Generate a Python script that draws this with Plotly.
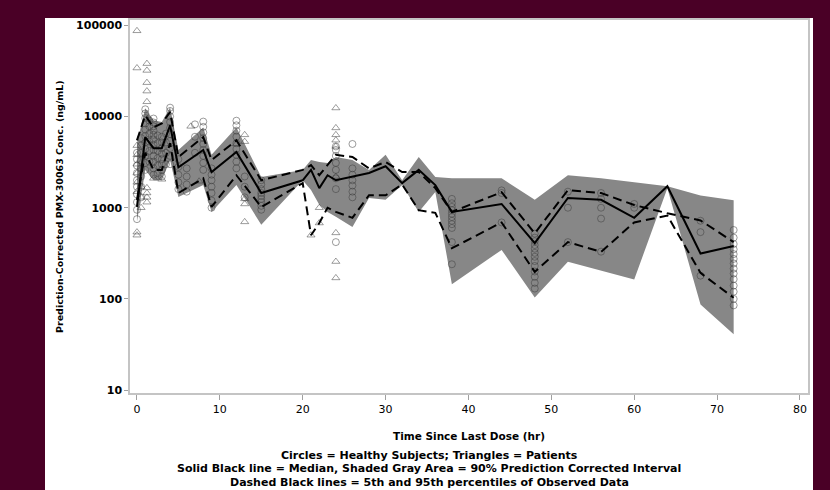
import plotly.graph_objects as go

# ---------------- data ----------------
TIME = [0, 1, 2, 3, 4, 5, 8, 9, 12, 15, 20, 21, 22, 23, 24, 26, 28, 30, 32, 34,
        36, 38, 44, 48, 52, 56, 60, 64, 68, 72]
PI_LO = [700, 2600, 2000, 2000, 3330, 1310, 1780, 900, 1780, 650, 2000, 1560, 1075, 900, 795,
         615, 1280, 1220, 1770, 900, 1490, 145, 345, 104, 256, 204, 163, 1640, 87, 41]
PI_HI = [5100, 12300, 9100, 8700, 12600, 4300, 7600, 3800, 7600, 2170, 2600, 3330, 3170, 3100, 3600,
         3330, 2600, 3800, 2000, 3600, 2170, 2100, 2100, 1220, 2270, 2100, 1900, 1720, 1360, 1210]
MEDIAN = [1020, 5950, 4500, 4500, 8000, 2780, 4300, 2460, 4090, 1450, 2000, 2600, 1640, 2270, 2000,
          2170, 2400, 2850, 1860, 2600, 1770, 900, 1100, 410, 1280, 1220, 775, 1720, 315, 380]
OBS_P95 = [5480, 10300, 7600, 8400, 11200, 3600, 5950, 3330, 5480, 2000, 2600, 2930, 2270, 2930, 3800,
           3600, 2700, 3170, 2460, 2460, 1640, 900, 1480, 525, 1560, 1450, 1070, 870, 725, 420]
OBS_P05 = [1220, 4000, 2600, 2600, 5100, 1450, 2100, 1020, 2270, 1020, 1860, 500, 680, 1000, 900,
           775, 1370, 1370, 1800, 940, 880, 360, 690, 198, 420, 328, 690, 820, 193, 103]

HS_TIMES = [0, 0.5, 1, 1.5, 2, 2.5, 3, 3.5, 4, 5, 6, 7, 8, 9, 12, 13, 15, 24, 26,
            38, 44, 48, 52, 56, 60, 68, 72]
HS_CONCS = [
    [750, 950, 1150, 1400, 1700, 2000, 2400, 2900, 3400, 4000],
    [1300, 1700, 2200, 2700, 3300, 4000, 4800, 5800],
    [2600, 3100, 3700, 4400, 5200, 6100, 7200, 8400, 9600, 10800, 12000],
    [3200, 4200, 5300, 6500, 7800, 9000],
    [2300, 2700, 3200, 3700, 4300, 4900, 5600, 6300, 7000, 7800, 8600, 9500],
    [2400, 2900, 3500, 4200, 5100, 6200],
    [2200, 2600, 3000, 3400, 3900, 4500, 5200, 6000],
    [3000, 4000, 5200, 6500],
    [3000, 3700, 4500, 5400, 6400, 7500, 8700, 10000, 11500, 12500],
    [1600, 1900, 2300, 2800, 3400],
    [1500, 1800, 2200, 2700],
    [4000, 6000, 8200],
    [2600, 3100, 3700, 4300, 5000, 5800, 6700, 7700, 8800],
    [1000, 1200, 1450, 1700, 2000, 2300, 2700],
    [2700, 3200, 3800, 4400, 5100, 6000, 7000, 8000, 9000],
    [1300, 1700, 2200],
    [950, 1050, 1150, 1250, 1350, 1450, 1600, 1800, 2000],
    [420, 1600, 2100, 2600, 3100, 3700, 4300, 4700],
    [1300, 1500, 1750, 2000, 2300, 2700, 5000],
    [240, 420, 600, 660, 720, 790, 860, 940, 1020, 1120, 1250],
    [690, 1450, 1550],
    [130, 150, 175, 200, 230, 260, 290, 320, 355, 390, 430, 470, 520],
    [420, 1000, 1500],
    [330, 760, 1000, 1250, 1450],
    [1000, 1100],
    [180, 540, 720],
    [85, 100, 120, 140, 165, 190, 215, 245, 275, 310, 350, 400, 470, 570],
]

PT_TIMES = [0, 0.5, 1.2, 2, 3, 6.5, 7.5, 12, 13, 21, 22, 24]
PT_CONCS = [
    [500, 540, 1500, 1900, 2400, 3000, 3800, 4800, 34000, 87000],
    [1000, 1300, 1700],
    [1150, 1300, 1450, 1650, 14500, 19000, 23500, 32000, 38000],
    [2100],
    [2050],
    [7800],
    [1950],
    [5000],
    [700, 1100, 1250, 5300, 6300],
    [500],
    [680, 1000],
    [170, 257, 530, 2200, 4700, 5500, 6300, 7500, 12400],
]

Y_TICKS = [10, 100, 1000, 10000, 100000]
Y_TICK_TEXT = ["10", "100", "1000", "10000", "100000"]
X_TICKS = [0, 10, 20, 30, 40, 50, 60, 70, 80]

FOOTNOTES = [
    "Circles = Healthy Subjects; Triangles = Patients",
    "Solid Black line = Median, Shaded Gray Area = 90% Prediction Corrected Interval",
    "Dashed Black lines = 5th and 95th percentiles of Observed Data",
]

# ---------------- figure ----------------
W, H = 830, 490
ML, MR, MT, MB = 130, 22, 20, 97
PW, PH = W - ML - MR, H - MT - MB
BG = "#4a0026"

def px_x(p):
    return (p - ML) / PW

def px_y(p):
    return (H - MB - p) / PH

FONT = "DejaVu Sans"
MARK = "rgba(60,60,60,0.5)"

hs_x, hs_y = [], []
for t, vals in zip(HS_TIMES, HS_CONCS):
    hs_x += [t] * len(vals)
    hs_y += vals
pt_x, pt_y = [], []
for t, vals in zip(PT_TIMES, PT_CONCS):
    pt_x += [t] * len(vals)
    pt_y += vals

fig = go.Figure()
fig.add_trace(go.Scatter(x=TIME, y=PI_LO, mode="lines", line=dict(width=0),
                         hoverinfo="skip", showlegend=False))
fig.add_trace(go.Scatter(x=TIME, y=PI_HI, mode="lines", line=dict(width=0),
                         fill="tonexty", fillcolor="#878787", showlegend=False))
fig.add_trace(go.Scatter(x=hs_x, y=hs_y, mode="markers", showlegend=False,
                         marker=dict(symbol="circle-open", size=7, color=MARK,
                                     line=dict(width=1, color=MARK))))
fig.add_trace(go.Scatter(x=pt_x, y=pt_y, mode="markers", showlegend=False,
                         marker=dict(symbol="triangle-up-open", size=7, color=MARK,
                                     line=dict(width=1, color=MARK))))
fig.add_trace(go.Scatter(x=TIME, y=OBS_P95, mode="lines", showlegend=False,
                         line=dict(color="black", width=2, dash="9px,5px")))
fig.add_trace(go.Scatter(x=TIME, y=OBS_P05, mode="lines", showlegend=False,
                         line=dict(color="black", width=2, dash="9px,5px")))
fig.add_trace(go.Scatter(x=TIME, y=MEDIAN, mode="lines", showlegend=False,
                         line=dict(color="black", width=2)))

annotations = [
    dict(text="<b>Time Since Last Dose (hr)</b>", x=px_x(469), y=px_y(436), xref="paper", yref="paper",
         showarrow=False, font=dict(family=FONT, size=10.5, color="black"),
         xanchor="center", yanchor="middle"),
    dict(text="<b>Prediction-Corrected PMX-30063 Conc. (ng/mL)</b>", x=px_x(59), y=px_y(207),
         xref="paper", yref="paper", showarrow=False, textangle=-90,
         font=dict(family=FONT, size=9.5, color="black"), xanchor="center", yanchor="middle"),
]
for i, line in enumerate(FOOTNOTES):
    annotations.append(dict(text="<b>" + line + "</b>", x=px_x(429), y=px_y(456 + 13 * i),
                            xref="paper", yref="paper", showarrow=False,
                            font=dict(family=FONT, size=11, color="black"),
                            xanchor="center", yanchor="middle"))

fig.update_layout(
    width=W, height=H,
    margin=dict(l=ML, r=MR, t=MT, b=MB, pad=0),
    paper_bgcolor=BG,
    plot_bgcolor="white",
    showlegend=False,
    annotations=annotations,
    shapes=[dict(type="rect", xref="paper", yref="paper", layer="below",
                 x0=px_x(45), x1=px_x(813), y0=px_y(495), y1=px_y(18),
                 fillcolor="white", line=dict(width=0))],
    xaxis=dict(range=[-0.84, 80.97], tickvals=X_TICKS, ticks="outside", ticklen=5,
               tickcolor="#a0a0a0", showline=True, linecolor="#c4c4c4", linewidth=1.5,
               mirror=True, showgrid=False, zeroline=False,
               tickfont=dict(family=FONT, size=11, color="black"), tickprefix="<b>", ticksuffix="</b>"),
    yaxis=dict(type="log", range=[0.969, 5.058], tickvals=Y_TICKS, ticktext=["<b>%s</b>" % t for t in Y_TICK_TEXT],
               ticks="outside", ticklen=4, tickcolor="#a0a0a0", showline=True,
               linecolor="#c4c4c4", linewidth=1.5, mirror=True, showgrid=False, zeroline=False,
               tickfont=dict(family=FONT, size=11, color="black")),
)

fig.write_html("out.html", config={"displayModeBar": False},
               post_script="document.body.style.margin='0';document.body.style.background='%s';" % BG)
